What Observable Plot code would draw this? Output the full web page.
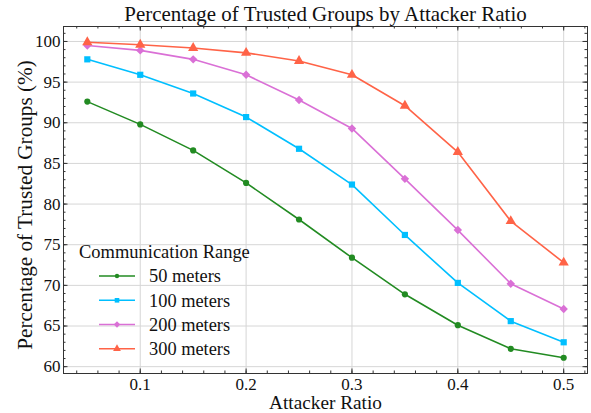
<!DOCTYPE html>
<html><head>
<meta charset="utf-8">
<script src="https://cdn.jsdelivr.net/npm/d3@7"></script>
<script src="https://cdn.jsdelivr.net/npm/@observablehq/plot@0.6"></script>
<style>
body{margin:0;background:#fff}
#wrap{position:relative;width:591px;height:413px}
#legend{position:absolute;left:0;top:0}
</style>
</head><body><div id="wrap"></div>
<script>
const ratios = [0.05, 0.1, 0.15, 0.2, 0.25, 0.3, 0.35, 0.4, 0.45, 0.5];
const seriesNames = ["50 meters", "100 meters", "200 meters", "300 meters"];
const range50  = [92.6, 89.8, 86.6, 82.6, 78.1, 73.4, 68.9, 65.1, 62.2, 61.1];
const range100 = [97.8, 95.9, 93.6, 90.7, 86.8, 82.4, 76.2, 70.3, 65.6, 63.0];
const range200 = [99.5, 98.9, 97.8, 95.9, 92.8, 89.3, 83.1, 76.8, 70.2, 67.1];
const range300 = [99.9, 99.6, 99.2, 98.6, 97.6, 95.9, 92.1, 86.4, 77.9, 72.8];
const xTickValues = [0.1, 0.2, 0.3, 0.4, 0.5];
const yTickValues = [60, 65, 70, 75, 80, 85, 90, 95, 100];
const titleText = "Percentage of Trusted Groups by Attacker Ratio";
const xLabel = "Attacker Ratio";
const yLabel = "Percentage of Trusted Groups (%)";
const legendTitle = "Communication Range";

const colors = ["#228B22", "#00BFFF", "#DA70D6", "#FF6347"];
const symbols = ["circle", "square", "diamond2", "triangle"];
const radii = [3.1, 3.5, 3.8, 3.8];
const seriesValues = [range50, range100, range200, range300];

const table = [];
seriesNames.forEach((s, i) => ratios.forEach((r, j) => table.push({series: s, x: r, y: seriesValues[i][j]})));

const font = "Liberation Serif";
// font size that makes a text as wide as in the reference
const ctx = document.createElement("canvas").getContext("2d");
function fit(text, width) {
  ctx.font = `100px "${font}"`;
  return 100 * width / ctx.measureText(text).width;
}
const fsTitle = fit(titleText, 404);
const fsX = fit(xLabel, 113);
const fsY = fit(yLabel, 290);
const fsTick = fit("100", 25.5);
const fsLegTitle = fit(legendTitle, 171);
const fsLeg = fit("50 meters", 72);

const W = 591, H = 413, mL = 63, mR = 4, mT = 26, mB = 40;
const plotH = H - mT - mB;
const plotW = W - mL - mR;

const xs = d3.extent(ratios), xr = xs[1] - xs[0];
const allY = table.map(d => d.y);
const ys = d3.extent(allY), yr = ys[1] - ys[0];
const xDomain = [xs[0] - 0.05 * xr, xs[1] + 0.05 * xr];
const yDomain = [ys[0] - 0.05 * yr, ys[1] + 0.05 * yr];

const xMinor = d3.range(0.04, 0.521, 0.02).filter(v => v > xDomain[0] && v < xDomain[1]);
const yMinor = d3.range(60, 102, 1).filter(v => v > yDomain[0] && v < yDomain[1]);

const tickColor = "#333";
const majorLen = 4.5, minorLen = 2.5;

const marks = [
  Plot.gridX(xTickValues, {stroke: "#d6d6d6", strokeOpacity: 1, strokeWidth: 1}),
  Plot.gridY(yTickValues, {stroke: "#d6d6d6", strokeOpacity: 1, strokeWidth: 1}),
  Plot.line(table, {x: "x", y: "y", z: "series", stroke: "series", strokeWidth: 1.6}),
  ...seriesNames.map((s, i) => Plot.dot(table.filter(d => d.series === s), {x: "x", y: "y", fill: colors[i], symbol: () => symbols[i], r: radii[i]})),
  Plot.ruleX(xTickValues, {x: d => d, insetTop: plotH - majorLen, stroke: tickColor}),
  Plot.ruleX(xTickValues, {x: d => d, insetBottom: plotH - majorLen, stroke: tickColor}),
  Plot.ruleX(xMinor, {x: d => d, insetTop: plotH - minorLen, stroke: tickColor}),
  Plot.ruleX(xMinor, {x: d => d, insetBottom: plotH - minorLen, stroke: tickColor}),
  Plot.ruleY(yTickValues, {y: d => d, insetRight: plotW - majorLen, stroke: tickColor}),
  Plot.ruleY(yTickValues, {y: d => d, insetLeft: plotW - majorLen, stroke: tickColor}),
  Plot.ruleY(yMinor, {y: d => d, insetRight: plotW - minorLen, stroke: tickColor}),
  Plot.ruleY(yMinor, {y: d => d, insetLeft: plotW - minorLen, stroke: tickColor}),
  Plot.frame({stroke: "#333", strokeWidth: 1}),
  Plot.axisX(xTickValues, {tickSize: 0, tickPadding: 4, fontSize: fsTick, tickFormat: d3.format(".1f"), label: null, fill: "#111"}),
  Plot.axisY(yTickValues, {tickSize: 0, tickPadding: 3, fontSize: fsTick, label: null, fill: "#111"}),
  Plot.text([titleText], {frameAnchor: "top", dy: -12, fontSize: fsTitle, fill: "#111", textAnchor: "middle", lineAnchor: "middle"}),
  Plot.text([xLabel], {frameAnchor: "bottom", dy: 29.5, fontSize: fsX, fill: "#111", textAnchor: "middle", lineAnchor: "middle"}),
  Plot.text([yLabel], {frameAnchor: "left", dx: -38, dy: 5, rotate: -90, fontSize: fsY, fill: "#111", textAnchor: "middle", lineAnchor: "middle"})
];

const chart = Plot.plot({
  width: W, height: H,
  marginLeft: mL, marginRight: mR, marginTop: mT, marginBottom: mB,
  style: {fontFamily: font, background: "#fff", overflow: "visible"},
  x: {domain: xDomain, axis: null},
  y: {domain: yDomain, axis: null},
  color: {domain: seriesNames, range: colors},
  marks
});
document.getElementById("wrap").appendChild(chart);

const lg = d3.select("#wrap").append("svg").attr("id", "legend").attr("width", W).attr("height", H)
  .style("font-family", font);
lg.append("text").attr("x", 79).attr("y", 252).attr("dy", "0.35em").attr("font-size", fsLegTitle).attr("fill", "#111").text(legendTitle);
const rowY = [276, 300.3, 324.5, 348.7];
seriesNames.forEach((s, i) => {
  const g = lg.append("g").attr("transform", `translate(0,${rowY[i]})`);
  g.append("line").attr("x1", 99).attr("x2", 135).attr("y1", 0).attr("y2", 0).attr("stroke", colors[i]).attr("stroke-width", 1.6);
  const sym = {circle: d3.symbolCircle, square: d3.symbolSquare, diamond2: d3.symbolDiamond2, triangle: d3.symbolTriangle}[symbols[i]];
  g.append("path").attr("transform", "translate(117,0)").attr("d", d3.symbol(sym, Math.PI * (radii[i] - 0.9) ** 2)()).attr("fill", colors[i]);
  g.append("text").attr("x", 149).attr("dy", "0.35em").attr("font-size", fsLeg).attr("fill", "#111").text(s);
});
</script>
</body></html>
